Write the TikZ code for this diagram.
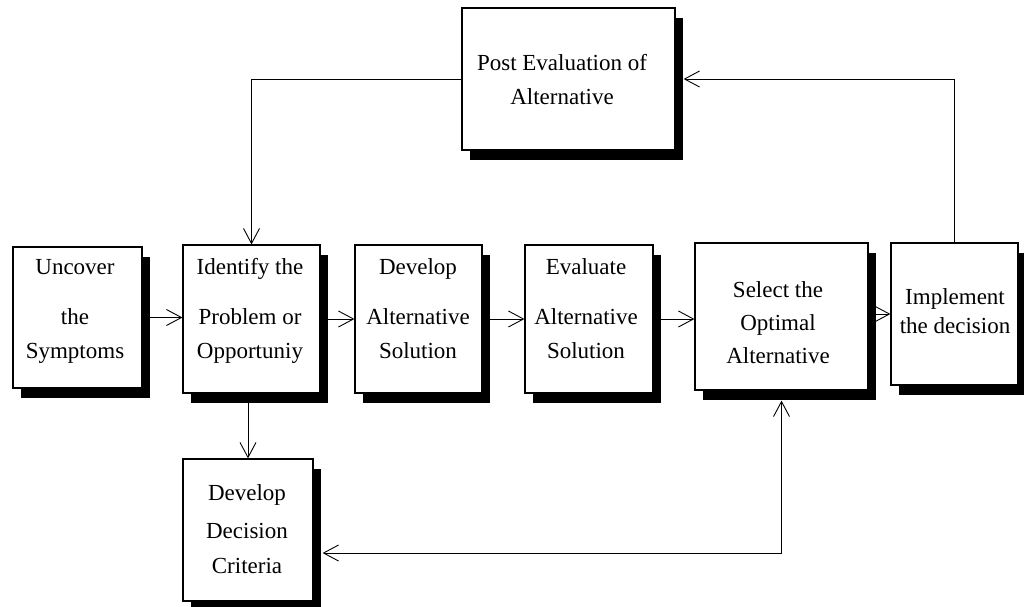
\documentclass[tikz,border=0pt]{standalone}
\usepackage{fontspec}
\setmainfont{Liberation Serif}
\usetikzlibrary{shadows,arrows.meta}
\begin{document}
\begin{tikzpicture}[x=1pt,y=-1pt,
  box/.style={draw=black, line width=1.2pt, fill=white, inner sep=0pt,
    drop shadow={shadow xshift=8pt, shadow yshift=-10pt, fill=black, opacity=1}},
  lbl/.style={align=center, inner sep=0pt, font=\fontsize{23}{34}\selectfont},
  link/.style={line width=0.9pt, -{Straight Barb[length=15pt,width=16pt]}},
  twoway/.style={line width=0.9pt, {Straight Barb[length=15pt,width=16pt]}-{Straight Barb[length=15pt,width=16pt]}}]
\useasboundingbox (0,0) rectangle (1024,606);

% process boxes
\node[box, minimum width=129pt, minimum height=141pt] (b1) at (77.5,317.5) {};
\node[box, minimum width=137pt, minimum height=148pt] (b2) at (251.5,319) {};
\node[box, minimum width=127pt, minimum height=148pt] (b3) at (418.5,319) {};
\node[box, minimum width=128pt, minimum height=148pt] (b4) at (589,319) {};
\node[box, minimum width=173pt, minimum height=147pt] (b5) at (781.5,316.5) {};
\node[box, minimum width=127pt, minimum height=142pt] (b6) at (954.5,314) {};
\node[box, minimum width=130pt, minimum height=142pt] (b7) at (248,530) {};
\node[box, minimum width=213pt, minimum height=142pt] (b8) at (568.5,79) {};

% box texts
\node[lbl] (t1) at (75,309.2) {\strut Uncover\\[16pt]\strut the\\\strut Symptoms};
\node[lbl] (t2) at (250,309.2) {\strut Identify the\\[16pt]\strut Problem or\\\strut Opportuniy};
\node[lbl] (t3) at (418,309.2) {\strut Develop\\[16pt]\strut Alternative\\\strut Solution};
\node[lbl] (t4) at (586,309.2) {\strut Evaluate\\[16pt]\strut Alternative\\\strut Solution};
\node[lbl] (t5) at (778,323.2) {\strut Select the\\[-1pt]\strut Optimal\\[-1pt]\strut Alternative};
\node[lbl] (t6) at (955,311.7) {\strut Implement\\[-5pt]\strut the decision};
\node[lbl] (t7) at (247,529.7) {\strut Develop\\[4pt]\strut Decision\\[1pt]\strut Criteria};
\node[lbl] (t8) at (562,80.2) {\strut Post Evaluation of\\\strut Alternative};

% main flow
\draw[link] (b1.east) -- (b1.east -| b2.west);
\draw[link] (b2.east) -- (b3.west);
\draw[link] (b3.east) -- (b4.west);
\draw[link] (b4.east) -- (b4.east -| b5.west);
\draw[link] (b5.east |- b6.west) -- (b6.west);

% feedback through the post evaluation
\draw[link] (b6.north) |- ([xshift=8pt]b8.east);
\draw[link] (b8.west) -| (b2.north);

% decision criteria
\draw[link] (b7.north |- b2.south) -- (b7.north);
\draw[twoway] ([yshift=-10pt]b5.south) |- ([xshift=9pt,yshift=-23pt]b7.east);
\end{tikzpicture}
\end{document}
